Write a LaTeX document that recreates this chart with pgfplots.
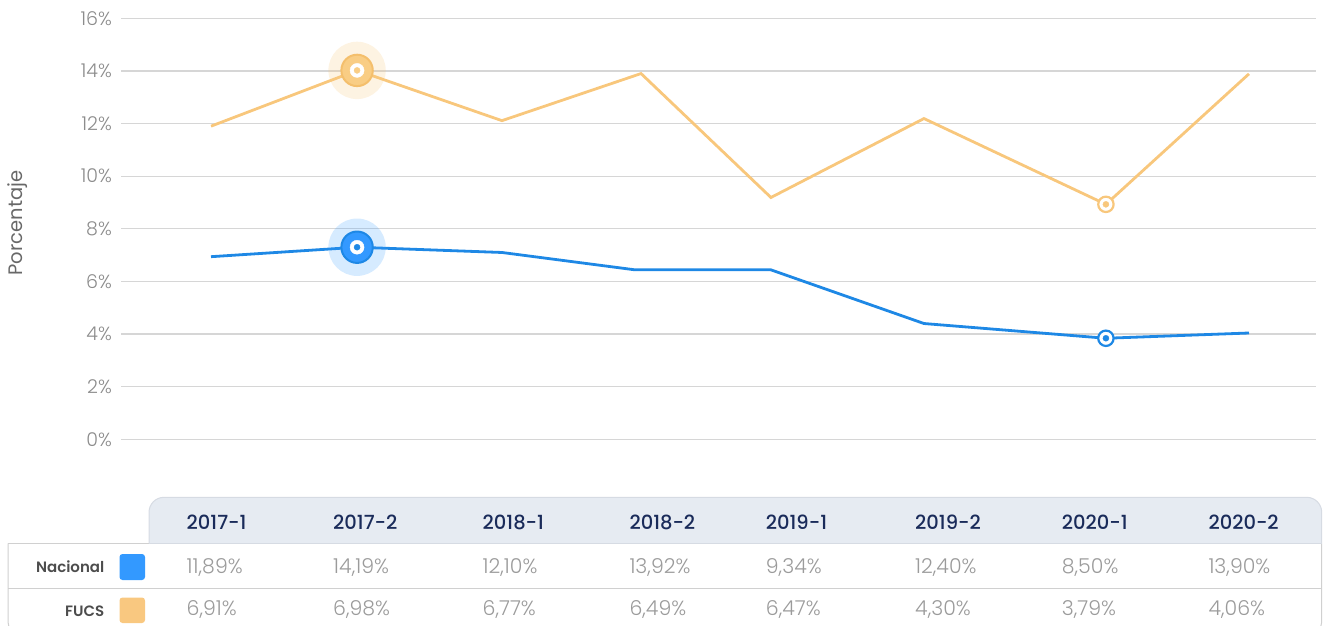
\documentclass[border=0pt]{standalone}
\usepackage{pgfplots}
\pgfplotsset{compat=1.18}
\usepackage{fontspec}
\setmainfont{Poppins}
\newfontfamily\plight{Poppins Light}
\newfontfamily\pmed{Poppins Medium}
\newfontfamily\psemi{Poppins SemiBold}
\definecolor{tickgray}{HTML}{8C8C8C}
\definecolor{gridgray}{HTML}{D6D6D6}
\definecolor{headfill}{HTML}{E6EBF2}
\definecolor{headborder}{HTML}{D6DBE3}
\definecolor{headtext}{HTML}{1A2B5A}
\definecolor{valtext}{HTML}{9B9B9B}
\definecolor{rowtext}{HTML}{4D4D4D}
\definecolor{tborder}{HTML}{D0D0D0}
\definecolor{orangeline}{HTML}{F8C77C}
\definecolor{orangefill}{HTML}{F9CD84}
\definecolor{orangering}{HTML}{F4BF6C}
\definecolor{blueline}{HTML}{1E88E5}
\definecolor{bluefill}{HTML}{3399FF}
\definecolor{swblue}{HTML}{3399FF}
\definecolor{sworange}{HTML}{F9C880}

% series values (x = position of the category, 0 = 2017-1 ... 7 = 2020-2)
\pgfplotstableread{
x      y
0      11.90
0.985  14.02
1.962  12.11
2.90   13.90
3.776  9.19
4.808  12.19
6.035  8.93
7.0    13.89
}\orangedata
\pgfplotstableread{
x      y
0      6.94
0.985  7.30
1.962  7.10
2.86   6.44
3.776  6.44
4.808  4.40
6.035  3.84
7.0    4.04
}\bluedata

\begin{document}
\begin{tikzpicture}
\path[use as bounding box] (0,0) rectangle (1331pt,-626pt);

\begin{axis}[
  at={(121pt,-439.3pt)}, anchor=south west,
  scale only axis, width=1195pt, height=421pt,
  xmin=-0.607, xmax=7.452, ymin=0, ymax=16,
  ytick={0,2,...,16}, xtick=\empty,
  yticklabel={\pgfmathprintnumber[assume math mode=true]{\tick}\%},
  yticklabel style={font=\plight\fontsize{19}{21}\selectfont, text=tickgray, anchor=east, inner sep=0pt, xshift=-9pt},
  axis line style={draw=none}, major tick length=0pt,
  ymajorgrids, grid style={color=gridgray, line width=1.2pt},
  clip=false,
]
\addplot[orangeline, line width=2.8pt, mark=none] table[x=x,y=y] {\orangedata};
\addplot[blueline, line width=2.8pt, mark=none] table[x=x,y=y] {\bluedata};

% highlighted points (2017-2)
\addplot[only marks, color=orangeline, mark=*, mark size=28.7pt, mark options={fill=orangeline, fill opacity=0.22, draw opacity=0}] coordinates {(0.985,14.02)};
\addplot[only marks, color=orangering, mark=*, mark size=15.7pt, mark options={draw=orangering, line width=2pt, fill=orangefill}] coordinates {(0.985,14.02)};
\addplot[only marks, color=white, mark=*, mark size=7pt, mark options={draw=white, fill=white}] coordinates {(0.985,14.02)};
\addplot[only marks, color=orangefill, mark=*, mark size=3pt, mark options={draw=orangefill, fill=orangefill}] coordinates {(0.985,14.02)};

\addplot[only marks, color=bluefill, mark=*, mark size=28.7pt, mark options={fill=bluefill, fill opacity=0.2, draw opacity=0}] coordinates {(0.985,7.30)};
\addplot[only marks, color=blueline, mark=*, mark size=15.7pt, mark options={draw=blueline, line width=2pt, fill=bluefill}] coordinates {(0.985,7.30)};
\addplot[only marks, color=white, mark=*, mark size=7pt, mark options={draw=white, fill=white}] coordinates {(0.985,7.30)};
\addplot[only marks, color=blueline, mark=*, mark size=3pt, mark options={draw=blueline, fill=blueline}] coordinates {(0.985,7.30)};

% points at 2020-1
\addplot[only marks, color=orangeline, mark=*, mark size=7.7pt, mark options={draw=orangeline, line width=2.2pt, fill=white}] coordinates {(6.035,8.93)};
\addplot[only marks, color=orangeline, mark=*, mark size=3pt, mark options={draw=orangeline, fill=orangeline}] coordinates {(6.035,8.93)};
\addplot[only marks, color=blueline, mark=*, mark size=7.7pt, mark options={draw=blueline, line width=2.2pt, fill=white}] coordinates {(6.035,3.84)};
\addplot[only marks, color=blueline, mark=*, mark size=3pt, mark options={draw=blueline, fill=blueline}] coordinates {(6.035,3.84)};
\end{axis}

\begin{scope}[x=1pt, y=-1pt]
% y label
\node[rotate=90, text=rowtext!85!white, font=\fontsize{19.5}{21}\selectfont, inner sep=0pt] at (18,223) {Porcentaje};

% table body
\draw[tborder, line width=1pt, rounded corners=10pt] (8,543.3) -- (8,632) -- (1321.7,632) -- (1321.7,543.3);
\draw[tborder, line width=1pt] (8,543.3) -- (1321.7,543.3);
\draw[tborder, line width=1pt] (8,588.3) -- (1321.7,588.3);
% header
\draw[fill=headfill, draw=headborder, line width=1pt, rounded corners=15pt] (149,543.3) -- (149,497.3) -- (1321.7,497.3) -- (1321.7,543.3);
\draw[headborder, line width=1pt] (149,543.3) -- (1321.7,543.3);

% row labels and swatches
\node[anchor=base east, inner sep=0pt, text=rowtext, font=\psemi\fontsize{15}{17}\selectfont] at (104.5,572.7) {Nacional};
\node[anchor=base east, inner sep=0pt, text=rowtext, font=\psemi\fontsize{15}{17}\selectfont] at (104.5,616) {FUCS};
\fill[swblue, rounded corners=3pt] (119.5,554) rectangle (145,580);
\fill[sworange, rounded corners=3pt] (119.5,597.5) rectangle (145,623);

% columns
\foreach \xl/\h/\a/\b in {186.5/2017-1/{11,89\%}/{6,91\%},
                        333/2017-2/{14,19\%}/{6,98\%},
                        482.5/2018-1/{12,10\%}/{6,77\%},
                        629.3/2018-2/{13,92\%}/{6,49\%},
                        765.7/2019-1/{9,34\%}/{6,47\%},
                        915/2019-2/{12,40\%}/{4,30\%},
                        1061.7/2020-1/{8,50\%}/{3,79\%},
                        1208.3/2020-2/{13,90\%}/{4,06\%}}{
  \node[anchor=base west, inner sep=0pt, text=headtext, font=\pmed\fontsize{19.5}{21}\selectfont] at (\xl,529.3) {\h};
  \node[anchor=base west, inner sep=0pt, text=valtext, font=\plight\fontsize{20.5}{22}\selectfont] at (\xl,573.3) {\a};
  \node[anchor=base west, inner sep=0pt, text=valtext, font=\plight\fontsize{20.5}{22}\selectfont] at (\xl,615) {\b};
}
\end{scope}
\end{tikzpicture}
\end{document}
